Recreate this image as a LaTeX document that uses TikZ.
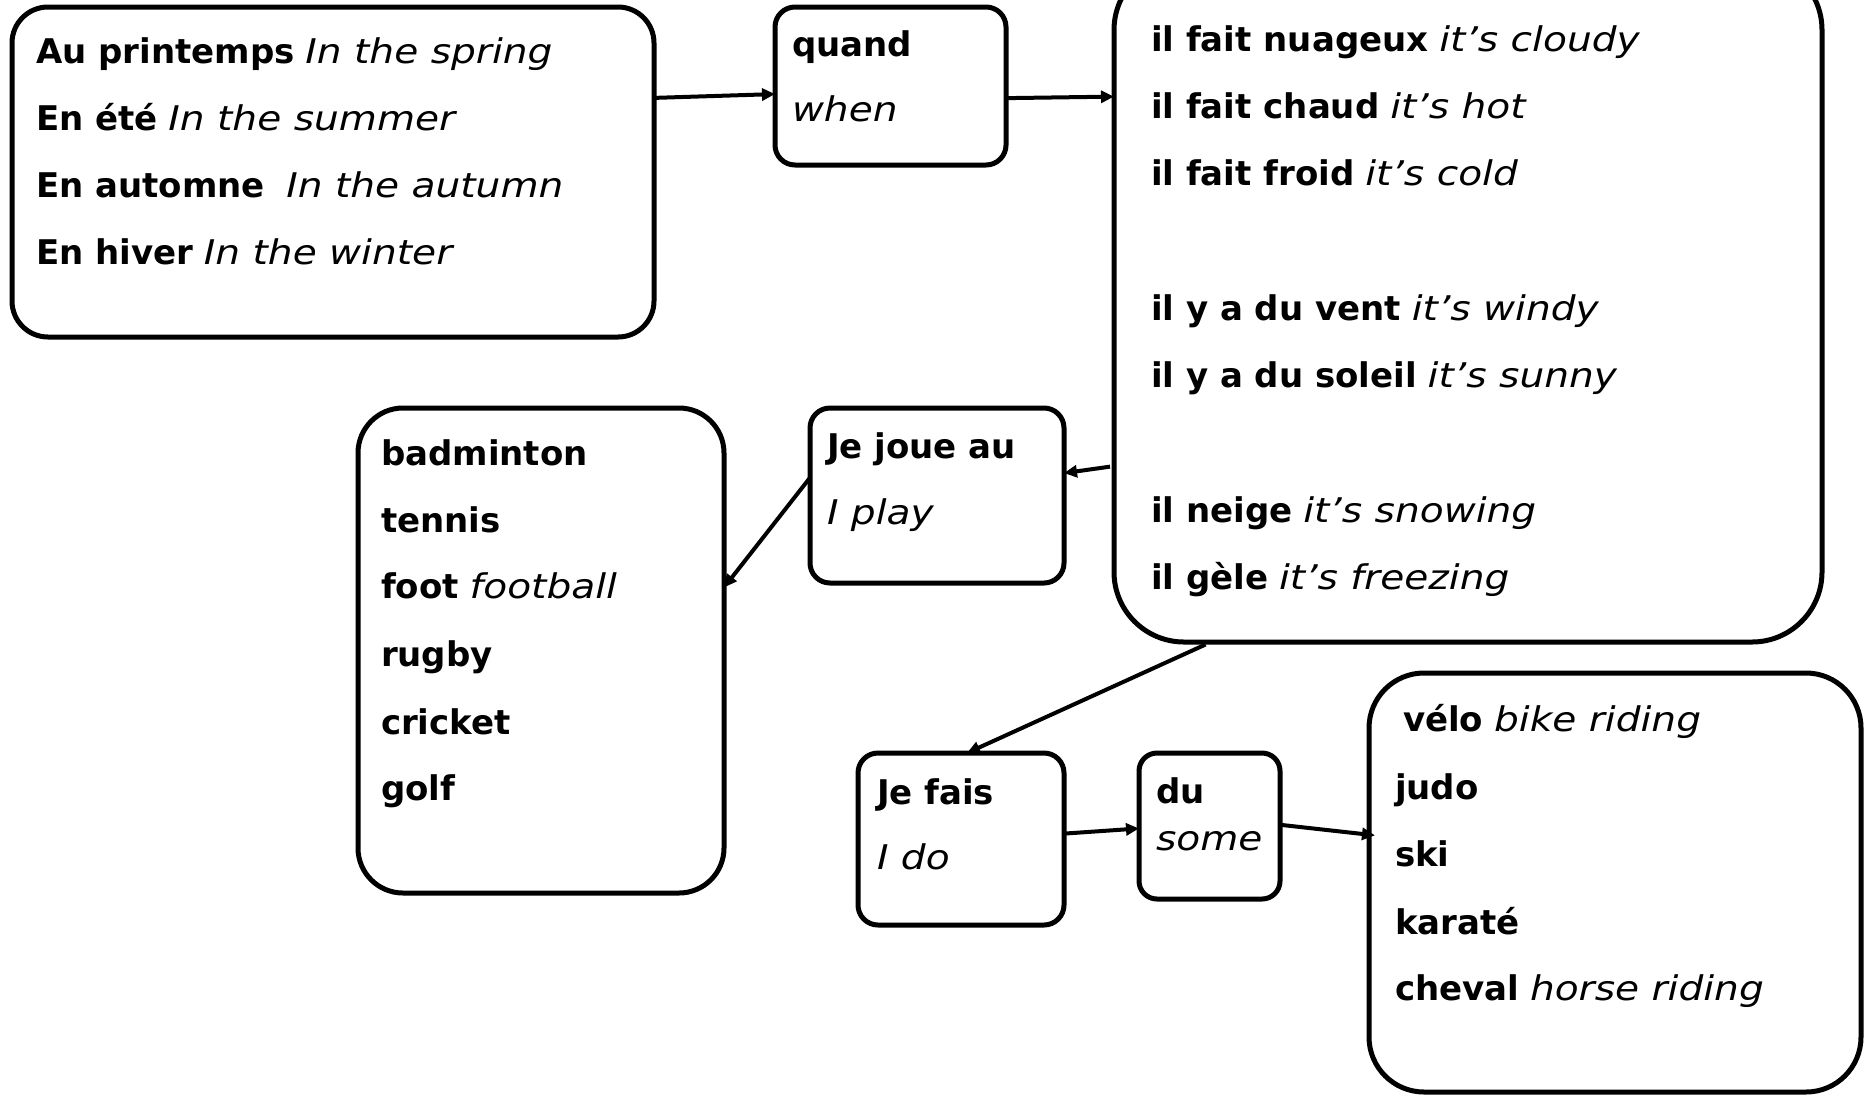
\documentclass[tikz,border=0pt]{standalone}
\usepackage{fontspec}
\setmainfont{DejaVu Sans}[BoldFont={DejaVu Sans Bold},ItalicFont={DejaVu Sans Oblique},ItalicFeatures={FakeStretch=1.15}]
\usetikzlibrary{arrows.meta}
\newcommand\FR[1]{\textbf{#1}}
\newcommand\EN[1]{\textit{#1}}
\tikzset{
  box/.style={draw=black, line width=5pt, inner sep=0pt, outer sep=0pt, anchor=north west},
  txt/.style={anchor=base west, inner sep=0pt, outer sep=0pt, font=\fontsize{34}{40}\selectfont},
  arr/.style={line width=4pt, -{Triangle[length=13pt,width=12pt]}},
}
\begin{document}
\begin{tikzpicture}[x=1pt,y=-1pt]
\useasboundingbox (0,0) rectangle (1865,1096);
\fill[white] (0,0) rectangle (1865,1096);
\clip (0,0) rectangle (1865,1096);

% boxes
\node[box, rounded corners=36pt, minimum width=642pt, minimum height=330pt] (seasons) at (12,7) {};
\node[box, rounded corners=20pt, minimum width=231pt, minimum height=158pt] (quand) at (775,7) {};
\node[box, rounded corners=70pt, minimum width=708pt, minimum height=682pt] (weather) at (1114,-40) {};
\node[box, rounded corners=20pt, minimum width=254pt, minimum height=175pt] (joue) at (810,408) {};
\node[box, rounded corners=45pt, minimum width=366pt, minimum height=485pt] (sports) at (358,408) {};
\node[box, rounded corners=20pt, minimum width=206pt, minimum height=172pt] (fais) at (858,753) {};
\node[box, rounded corners=18pt, minimum width=141pt, minimum height=146pt] (du) at (1139,753) {};
\node[box, rounded corners=55pt, minimum width=492pt, minimum height=419pt] (act) at (1369,673) {};

% seasons text
\node[txt] (s1) at (36,63) {\FR{Au printemps} \EN{In the spring}};
\node[txt] (s2) at (36,130) {\FR{En été} \EN{In the summer}};
\node[txt] (s3) at (36,197) {\FR{En automne}\ \ \EN{In the autumn}};
\node[txt] (s4) at (36,264) {\FR{En hiver} \EN{In the winter}};

% quand text
\node[txt] (q1) at (792,56) {\FR{quand}};
\node[txt] (q2) at (792,121) {\EN{when}};

% weather text
\node[txt] (w1) at (1151,51) {\FR{il fait nuageux} \EN{it’s cloudy}};
\node[txt] (w2) at (1151,118) {\FR{il fait chaud} \EN{it’s hot}};
\node[txt] (w3) at (1151,185) {\FR{il fait froid} \EN{it’s cold}};
\node[txt] (w4) at (1151,320) {\FR{il y a du vent} \EN{it’s windy}};
\node[txt] (w5) at (1151,387) {\FR{il y a du soleil} \EN{it’s sunny}};
\node[txt] (w6) at (1151,522) {\FR{il neige} \EN{it’s snowing}};
\node[txt] (w7) at (1151,589) {\FR{il gèle} \EN{it’s freezing}};

% je joue au
\node[txt] (j1) at (827,458) {\FR{Je joue au}};
\node[txt] (j2) at (827,524) {\EN{I play}};

% sports
\node[txt] (p1) at (381,465) {\FR{badminton}};
\node[txt] (p2) at (381,532) {\FR{tennis}};
\node[txt] (p3) at (381,598) {\FR{foot} \EN{football}};
\node[txt] (p4) at (381,666) {\FR{rugby}};
\node[txt] (p5) at (381,734) {\FR{cricket}};
\node[txt] (p6) at (381,800) {\FR{golf}};

% je fais
\node[txt] (f1) at (877,804) {\FR{Je fais}};
\node[txt] (f2) at (877,869) {\EN{I do}};

% du
\node[txt] (d1) at (1156,803) {\FR{du}};
\node[txt] (d2) at (1156,850) {\EN{some}};

% activities
\node[txt] (a1) at (1403,731) {\FR{vélo} \EN{bike riding}};
\node[txt] (a2) at (1395,799) {\FR{judo}};
\node[txt] (a3) at (1395,866) {\FR{ski}};
\node[txt] (a4) at (1395,934) {\FR{karaté}};
\node[txt] (a5) at (1395,1000) {\FR{cheval} \EN{horse riding}};

% connectors
\draw[arr] (seasons.13) -- (quand.184);
\draw[arr] (quand.354) -- (weather.150);
\draw[arr, shorten <=4pt] (weather.205) -- (joue.10);
\draw[arr] (joue.172) -- (sports.19);
\draw[arr, shorten <=6pt] (weather.233) -- (fais.86);
\draw[arr] (fais.3) -- (du.182);
\draw[arr, shorten >=-6pt] (du.1) -- (act.169);
\end{tikzpicture}
\end{document}
